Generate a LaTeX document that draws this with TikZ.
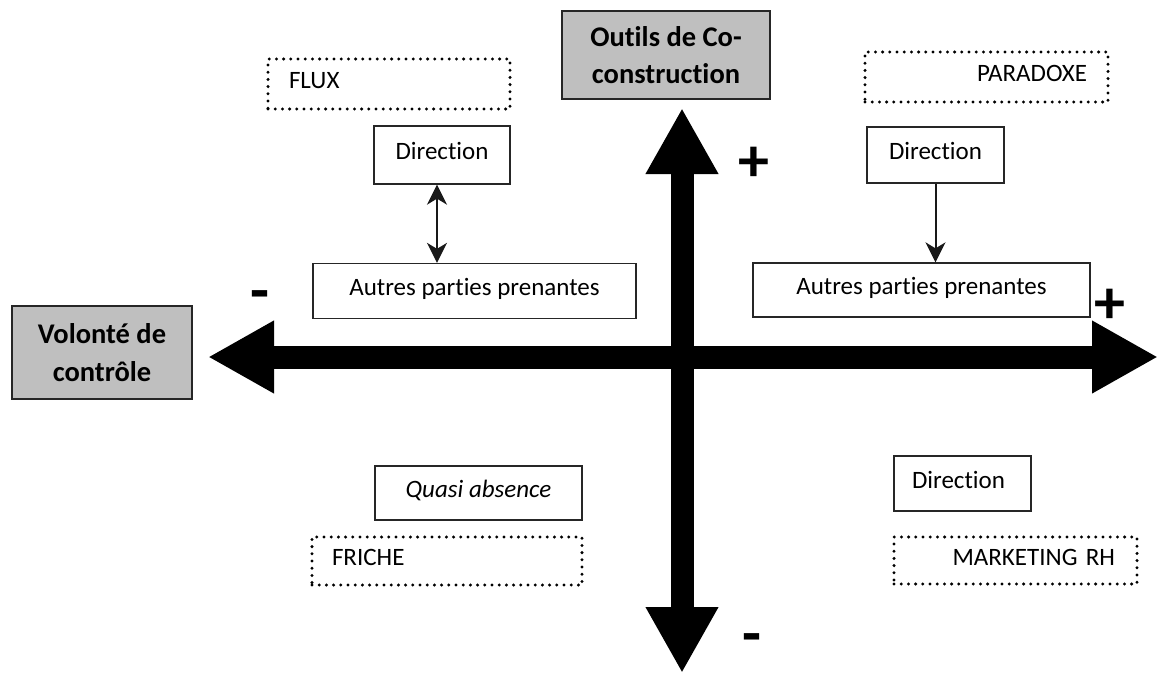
\documentclass[tikz,border=0pt]{standalone}
\usepackage{fontspec}
\setmainfont{Carlito}[Ligatures=NoCommon]
\usetikzlibrary{arrows.meta}

\begin{document}
\begin{tikzpicture}[x=1pt,y=-1pt,
  every node/.style={font=\fontsize{25}{30}\selectfont, inner sep=0pt,
    text height=16pt, text depth=7pt},
  whitebox/.style={draw=black!85, line width=1.3pt, fill=white, align=center},
  graybox/.style={draw=black!85, line width=1.3pt, fill=black!25, align=center,
    font=\fontsize{28.5}{37.5}\selectfont\bfseries, text height=, text depth=},
  dotbox/.style={draw=black, line width=3.3pt, line cap=round,
    dash pattern=on 0pt off 7.2pt, inner ysep=0pt},
  sign/.style={font=\fontsize{62}{62}\selectfont\bfseries, anchor=base,
    text height=, text depth=},
  axis/.style={line width=23pt,
    {Triangle[length=66pt,width=68pt]}-{Triangle[length=66pt,width=68pt]}},
  link/.style={line width=2pt, draw=black!90},
  tip/.style={Stealth[length=20pt,width=20pt,inset=6pt]}
]
\useasboundingbox (0,0) rectangle (1159,675);

% axes
\coordinate (west) at (208,357);
\coordinate (east) at (1158,357);
\coordinate (north) at (682,108);
\coordinate (south) at (682,673);
\draw[axis] (west) -- (east);
\draw[axis] (north) -- (south);

% axis titles
\node[graybox, minimum width=208pt, minimum height=88pt] (outils) at (666,55)
  {Outils de Co-\\construction};
\node[graybox, minimum width=180pt, minimum height=93pt] (volonte) at (102,352.5)
  {Volonté de\\contrôle};

% axis signs
\node[sign] (plusN) at (754,181) {+};
\node[sign] (plusE) at (1110,323) {+};
\node[sign] (minusW) at (260,311) {-};
\node[sign] (minusS) at (752,654) {-};

% quadrant labels
\node[dotbox, minimum height=50pt, text width=200pt, inner xsep=21pt, align=left]
  (flux) at (389,84) {FLUX};
\node[dotbox, minimum height=50pt, text width=201pt, inner xsep=21pt, align=right]
  (paradoxe) at (986.5,77) {PARADOXE};
\node[dotbox, minimum height=48pt, text width=230pt, inner xsep=20pt, align=left]
  (friche) at (447,561) {FRICHE};
\node[dotbox, minimum height=47pt, text width=199pt, inner xsep=22pt, align=right]
  (marketing) at (1015.5,560.5) {MARKETING RH};

% quadrant contents
\node[whitebox, minimum width=136pt, minimum height=58pt] (dirL) at (442,155) {Direction};
\node[whitebox, minimum width=323pt, minimum height=55pt] (autL) at (474.5,291) {Autres parties prenantes};
\node[whitebox, minimum width=137pt, minimum height=56pt] (dirR) at (935.5,155) {Direction};
\node[whitebox, minimum width=337pt, minimum height=54pt] (autR) at (921.5,290) {Autres parties prenantes};
\node[whitebox, minimum width=207pt, minimum height=54pt] (quasi) at (478.5,493) {\itshape Quasi absence};
\node[whitebox, minimum width=137pt, minimum height=55pt, text width=101pt,
  inner xsep=18pt, align=left] (dirB) at (962.5,483.5) {Direction};

% links
\draw[link, {Stealth[length=20pt,width=20pt,inset=6pt]}-{Stealth[length=20pt,width=20pt,inset=6pt]}]
  ([xshift=-5pt]dirL.south) -- ([xshift=-5pt]dirL.south |- autL.north);
\draw[link, -{Stealth[length=20pt,width=20pt,inset=6pt]}]
  (dirR.south) -- (dirR.south |- autR.north);
\end{tikzpicture}
\end{document}
